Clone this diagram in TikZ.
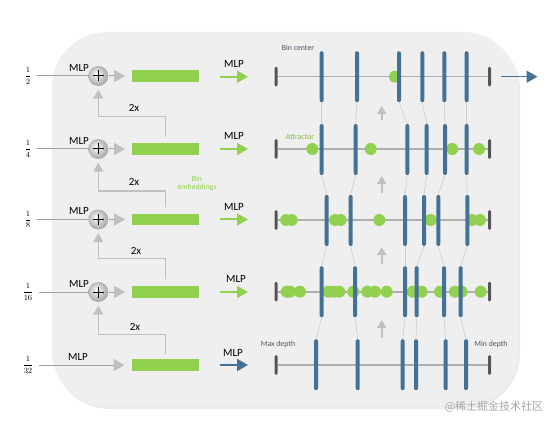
\documentclass[tikz,border=0pt]{standalone}
\usepackage{fontspec}
\setmainfont{Carlito}
\newfontfamily\cjkfont{Noto Sans CJK SC}
\usetikzlibrary{arrows.meta,shadows}
\definecolor{bgc}{RGB}{239,239,239}
\definecolor{grn}{RGB}{146,208,80}
\definecolor{grntxt}{RGB}{130,190,70}
\definecolor{binblue}{RGB}{68,114,150}
\definecolor{capgray}{RGB}{85,85,85}
\definecolor{axgray}{RGB}{175,175,175}
\definecolor{fbgray}{RGB}{192,192,192}
\definecolor{ingray}{RGB}{160,160,160}
\definecolor{lnkgray}{RGB}{205,205,205}
\definecolor{txtblue}{RGB}{68,84,106}
\pgfdeclareradialshading{lightball}{\pgfqpoint{-6bp}{6bp}}{color(0bp)=(white); color(5bp)=(white!85!gray); color(17bp)=(white!55!gray); color(25bp)=(white!35!gray); color(50bp)=(white!35!gray)}
\begin{document}
\begin{tikzpicture}[x=1pt,y=-1pt,
  lbl/.style={font=\fontsize{11}{12}\selectfont, text=black, inner sep=0pt},
  smalltxt/.style={font=\fontsize{7.8}{8.8}\selectfont, inner sep=0pt, align=center},
  plusball/.style={circle, minimum size=20pt, inner sep=0pt, shading=lightball,
    path picture={\draw[line width=1pt]
      ([xshift=-5.5pt]path picture bounding box.center) -- ([xshift=5.5pt]path picture bounding box.center)
      ([yshift=-5.5pt]path picture bounding box.center) -- ([yshift=5.5pt]path picture bounding box.center);}},
  emb/.style={rectangle, fill=grn, minimum width=67pt, minimum height=11.5pt, inner sep=0pt},
  fracnode/.style={font=\fontsize{8.5}{10}\selectfont, inner sep=0pt},
  capbar/.style={rectangle, rounded corners=1.5pt, fill=capgray, minimum width=3pt, minimum height=20pt, inner sep=0pt},
  binbar/.style={rectangle, rounded corners=2pt, fill=binblue, minimum width=4pt, minimum height=51pt, inner sep=0pt},
  attr/.style={circle, fill=grn, minimum size=12pt, inner sep=0pt},
  inl/.style={draw=ingray, line width=1pt},
  tofeat/.style={draw=ingray, line width=1pt, -{Triangle[length=11pt,width=12pt,color=fbgray]}},
  fb/.style={draw=fbgray, line width=1.6pt, -{Triangle[length=9pt,width=10pt]}},
  axisline/.style={draw=axgray, line width=1.6pt},
  lnk/.style={draw=lnkgray, line width=0.6pt},
  garrow/.style={draw=grn, line width=2pt, -{Triangle[length=11pt,width=12pt]}},
  barrow/.style={draw=binblue, line width=2pt, -{Triangle[length=11pt,width=12pt]}},
  uparrow/.style={draw=fbgray, line width=2pt, -{Triangle[length=8pt,width=9pt]}},
]
\useasboundingbox (0,0) rectangle (560,425);
% background panel
\fill[bgc, rounded corners=55pt, drop shadow={shadow xshift=2pt, shadow yshift=-3pt, opacity=0.15}]
  (52,32) rectangle (518,406);

% ---------------- left part ----------------
\node[fracnode] (f1) at (28,76) {$\displaystyle\frac{1}{2}$};
\node[fracnode] (f2) at (28,149) {$\displaystyle\frac{1}{4}$};
\node[fracnode] (f3) at (28,219.5) {$\displaystyle\frac{1}{8}$};
\node[fracnode] (f4) at (28,292) {$\displaystyle\frac{1}{16}$};
\node[fracnode] (f5) at (28,365) {$\displaystyle\frac{1}{32}$};

\node[plusball] (c1) at (98.3,76) {};
\node[plusball] (c2) at (98.3,149) {};
\node[plusball] (c3) at (98.3,219.5) {};
\node[plusball] (c4) at (98.3,292) {};

\node[emb] (e1) at (165.3,76) {};
\node[emb] (e2) at (165.3,149) {};
\node[emb] (e3) at (165.3,219.5) {};
\node[emb] (e4) at (165.3,292) {};
\node[emb] (e5) at (165.3,365) {};

\foreach \i in {1,2,3,4} {
  \draw[inl, shorten <=5pt] (f\i.east) -- (c\i.west);
  \draw[tofeat, shorten >=6.5pt] (c\i.east) -- (e\i.west);
}
\draw[tofeat, shorten <=5pt, shorten >=7pt] (f5.east) -- (e5.west);

\node[lbl] (m1) at (79,67.5) {MLP};
\node[lbl] (m2) at (79,140.5) {MLP};
\node[lbl] (m3) at (79,211) {MLP};
\node[lbl] (m4) at (79,283.5) {MLP};
\node[lbl] (m5) at (78,356.5) {MLP};

% feedback (2x)
\coordinate (h1) at (165.3,116.7);
\coordinate (h2) at (165.3,191);
\coordinate (h3) at (165.3,258.3);
\coordinate (h4) at (165.3,334.3);
\draw[fb, shorten <=6pt, shorten >=3.5pt] (e2.north) -- (h1) -| (c1.south);
\draw[fb, shorten <=7pt, shorten >=3.5pt] (e3.north) -- (h2) -| (c2.south);
\draw[fb, shorten <=7pt, shorten >=3.5pt] (e4.north) -- (h3) -| (c3.south);
\draw[fb, shorten <=5pt, shorten >=3.5pt] (e5.north) -- (h4) -| (c4.south);
\node[lbl] (x1) at (134,108.3) {2x};
\node[lbl] (x2) at (134,181.7) {2x};
\node[lbl] (x3) at (136,250.7) {2x};
\node[lbl] (x4) at (135,327.3) {2x};

\node[smalltxt, text=grn] (be) at (197,183.5) {Bin\\embeddings};

% MLP arrows to bins
\foreach \y [count=\i] in {76.7,149,219.5,292} {
  \coordinate (ms\i) at (220,\y);
  \coordinate (me\i) at (248,\y);
  \draw[garrow] (ms\i) -- (me\i);
}
\coordinate (ms5) at (220,365);
\coordinate (me5) at (248,365);
\draw[barrow] (ms5) -- (me5);
\node[lbl] (n1) at (234,63.5) {MLP};
\node[lbl] (n2) at (234,136) {MLP};
\node[lbl] (n3) at (234,206.5) {MLP};
\node[lbl] (n4) at (236,279) {MLP};
\node[lbl] (n5) at (233,352.5) {MLP};

% ---------------- right part ----------------
\foreach \y [count=\r] in {76.7,149,220,291.7,365} {
  \node[capbar] (L\r) at (276,\y) {};
  \node[capbar] (R\r) at (489.5,\y) {};
  \draw[axisline] (L\r.east) -- (R\r.west);
}
% attractors
\foreach \x [count=\k] in {395} \node[attr] (a1-\k) at (\x,76.7) {};
\foreach \x [count=\k] in {312.3,370.7,452.3,479} \node[attr] (a2-\k) at (\x,149) {};
\foreach \x [count=\k] in {286,291.7,335,340.7,379.3,430.7,471.7,480} \node[attr] (a3-\k) at (\x,220) {};
\foreach \x [count=\k] in {286.7,290,300,328.3,334,339.3,353.3,367.3,375,386.7,412.7,421.7,440,455,461.7,480.7}
  \node[attr] (a4-\k) at (\x,291.7) {};
% bins
\foreach \x [count=\k] in {321.7,357,399,422.3,444.3,466.7} \node[binbar] (b1-\k) at (\x,76.7) {};
\foreach \x [count=\k] in {321.7,355.7,407.3,426.7,445,466.7} \node[binbar] (b2-\k) at (\x,149.5) {};
\foreach \x [count=\k] in {326.7,350.7,405,424,438.3,467.3} \node[binbar] (b3-\k) at (\x,220.5) {};
\foreach \x [count=\k] in {321.7,355,405,416.7,444,460.7} \node[binbar] (b4-\k) at (\x,291.7) {};
\foreach \x [count=\k] in {316,357.7,402.7,416,445.7,466} \node[binbar] (b5-\k) at (\x,364.7) {};
% links between consecutive rows
\foreach \k in {1,...,6} {
  \draw[lnk] (b1-\k.south) -- (b2-\k.north);
  \draw[lnk] (b2-\k.south) -- (b3-\k.north);
  \draw[lnk] (b3-\k.south) -- (b4-\k.north);
  \draw[lnk] (b4-\k.south) -- (b5-\k.north);
}
% upward arrows
\foreach \ta/\tb [count=\i] in {120/106,193/176,264/247,338/320} {
  \coordinate (us\i) at (381.7,\ta);
  \coordinate (ue\i) at (381.7,\tb);
  \draw[uparrow] (us\i) -- (ue\i);
}
% output arrow
\coordinate (os) at (500.7,76.7);
\coordinate (oe) at (537.5,76.7);
\draw[barrow, line width=1.6pt] (os) -- (oe);

% labels
\node[smalltxt, text=txtblue] (bc) at (298,48) {Bin center};
\node[smalltxt, text=grntxt] (at) at (300,137) {Attractor};
\node[smalltxt, text=capgray] (mx) at (278,344) {Max depth};
\node[smalltxt, text=capgray] (mn) at (491,344) {Min depth};

% watermark
\node[font=\cjkfont\fontsize{11}{12}\selectfont, text=gray!70, inner sep=0pt] (wm) at (494,407) {@稀土掘金技术社区};
\end{tikzpicture}
\end{document}
